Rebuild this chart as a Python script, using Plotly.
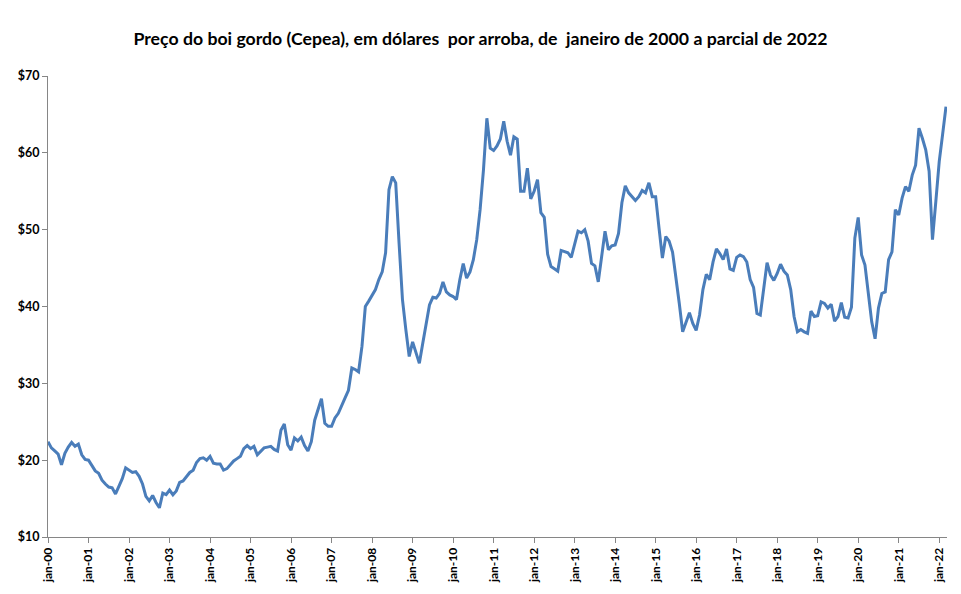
import plotly.graph_objects as go

# Monthly price (US$ per arroba), Jan-2000 .. Mar-2022
y2000 = [22.4, 21.6, 21.2, 20.8, 19.4, 20.9, 21.7, 22.3, 21.8, 22.1, 20.7, 20.1]
y2001 = [20.0, 19.3, 18.6, 18.3, 17.4, 16.9, 16.5, 16.4, 15.6, 16.6, 17.6, 19.0]
y2002 = [18.7, 18.4, 18.5, 17.9, 16.9, 15.3, 14.7, 15.4, 14.5, 13.8, 15.7, 15.5]
y2003 = [16.1, 15.5, 16.0, 17.1, 17.3, 17.8, 18.4, 18.7, 19.7, 20.2, 20.3, 20.0]
y2004 = [20.5, 19.6, 19.5, 19.5, 18.7, 18.9, 19.4, 19.9, 20.2, 20.5, 21.5, 21.9]
y2005 = [21.5, 21.8, 20.7, 21.1, 21.6, 21.7, 21.8, 21.4, 21.2, 23.9, 24.7, 22.0]
y2006 = [21.3, 22.9, 22.5, 23.0, 21.9, 21.2, 22.4, 25.2, 26.7, 28.0, 24.8, 24.4]
y2007 = [24.4, 25.5, 26.1, 27.0, 28.1, 29.1, 32.0, 31.8, 31.5, 34.8, 40.0, 40.7]
y2008 = [41.5, 42.2, 43.5, 44.5, 47.0, 55.2, 56.9, 56.1, 48.2, 40.9, 37.0, 33.5]
y2009 = [35.4, 34.1, 32.6, 35.2, 38.0, 40.2, 41.2, 41.1, 41.7, 43.2, 41.9, 41.5]
y2010 = [41.3, 40.9, 43.5, 45.6, 43.7, 44.5, 46.1, 48.7, 52.6, 57.8, 64.5, 60.6]
y2011 = [60.3, 60.9, 61.8, 64.1, 61.5, 59.7, 62.1, 61.8, 55.0, 55.0, 58.0, 54.0]
y2012 = [55.0, 56.5, 52.2, 51.6, 46.8, 45.2, 44.9, 44.6, 47.3, 47.2, 47.0, 46.4]
y2013 = [48.3, 49.8, 49.6, 50.0, 48.5, 45.6, 45.3, 43.2, 46.5, 49.8, 47.4, 47.9]
y2014 = [48.0, 49.5, 53.5, 55.7, 54.8, 54.3, 53.8, 54.3, 55.1, 54.8, 56.1, 54.3]
y2015 = [54.3, 50.2, 46.3, 49.1, 48.5, 47.1, 43.9, 40.4, 36.7, 38.0, 39.2, 37.8]
y2016 = [36.9, 38.9, 42.2, 44.2, 43.5, 45.8, 47.5, 46.9, 46.1, 47.5, 44.9, 44.7]
y2017 = [46.4, 46.7, 46.5, 45.8, 43.5, 42.5, 39.1, 38.9, 42.4, 45.7, 44.1, 43.4]
y2018 = [44.3, 45.5, 44.6, 44.1, 42.2, 38.7, 36.7, 37.0, 36.7, 36.5, 39.4, 38.7]
y2019 = [38.8, 40.6, 40.4, 39.8, 40.3, 38.1, 38.7, 40.5, 38.6, 38.5, 39.9, 48.9]
y2020 = [51.6, 46.7, 45.4, 41.5, 38.0, 35.8, 39.8, 41.7, 41.9, 46.1, 47.1, 52.6]
y2021 = [51.9, 54.1, 55.6, 55.0, 57.1, 58.4, 63.2, 61.9, 60.4, 57.6, 48.7, 53.7]
y2022 = [58.9, 62.4, 66.0]

years = list(range(2000, 2023))
series = [y2000, y2001, y2002, y2003, y2004, y2005, y2006, y2007, y2008, y2009,
          y2010, y2011, y2012, y2013, y2014, y2015, y2016, y2017, y2018, y2019,
          y2020, y2021, y2022]

values = []
for s in series:
    values.extend(s)
x_idx = list(range(len(values)))

tick_labels = ["jan-%02d" % (y % 100) for y in years]
tick_pos = [12 * k for k in range(len(years))]
y_ticks = [10, 20, 30, 40, 50, 60, 70]
y_labels = ["$%d" % v for v in y_ticks]

title = "Preço do boi gordo (Cepea), em dólares  por arroba, de  janeiro de 2000 a parcial de 2022"

fig = go.Figure()
fig.add_trace(go.Scatter(
    x=x_idx, y=values, mode="lines",
    line=dict(color="#4A7DBA", width=3),
    hoverinfo="skip", showlegend=False,
))

font_family = "Lato, 'Open Sans', Arial, sans-serif"

fig.update_layout(
    width=961, height=594,
    margin=dict(l=48, r=14, t=76, b=57),
    paper_bgcolor="white", plot_bgcolor="white",
    title=dict(text="<b>" + title + "</b>", x=0.5, xanchor="center",
               y=0.935, yanchor="middle",
               font=dict(family=font_family, size=17.7, color="black")),
    font=dict(family=font_family, color="black"),
)
fig.update_xaxes(
    range=[0, len(values) - 1 + 0.3],
    tickmode="array", tickvals=tick_pos,
    ticktext=["<b>" + t + "</b>" for t in tick_labels],
    tickangle=-90, tickfont=dict(size=12, family=font_family),
    showline=True, linecolor="#868686", linewidth=1,
    ticks="outside", ticklen=5, tickcolor="#868686",
    showgrid=False, zeroline=False,
)
fig.update_yaxes(
    range=[10, 70],
    tickmode="array", tickvals=y_ticks,
    ticktext=["<b>" + t + "</b>" for t in y_labels],
    tickfont=dict(size=12.5, family=font_family),
    showline=True, linecolor="#868686", linewidth=1,
    ticks="outside", ticklen=5, tickcolor="#868686",
    showgrid=False, zeroline=False,
)

fig.write_html("out.html")
